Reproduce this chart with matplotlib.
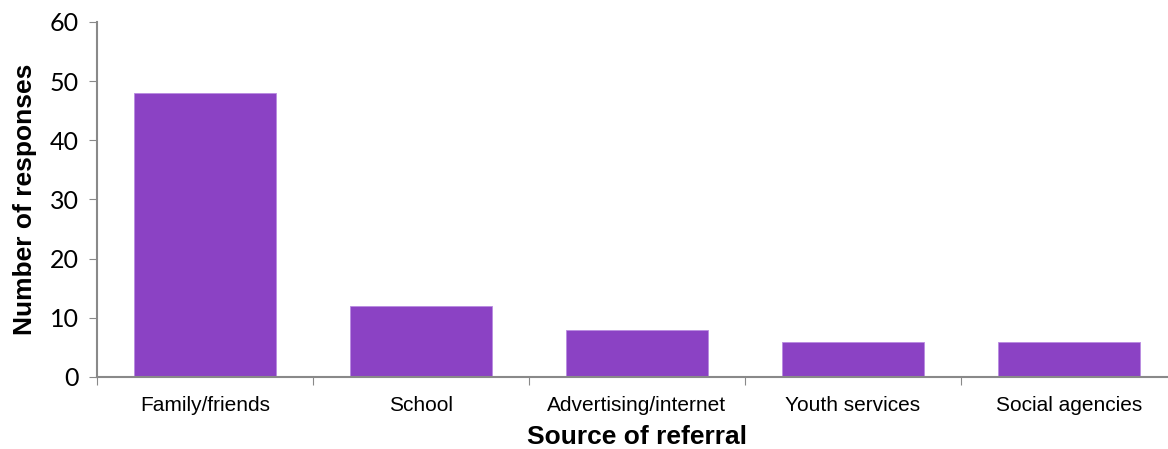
import matplotlib.pyplot as plt

categories = ["Family/friends", "School", "Advertising/internet",
              "Youth services", "Social agencies"]
responses = [48, 12, 8, 6, 6]

bar_color = "#8B42C4"
axis_color = "#898989"

fig = plt.figure(figsize=(11.68, 4.49), dpi=100)
ax = fig.add_axes([97 / 1168, 1 - 377 / 449, 1080 / 1168, 355 / 449])

x = list(range(len(categories)))
ax.bar(x, responses, width=0.66, color=bar_color, edgecolor="#B98BE0",
       linewidth=0.6)

ax.set_xlim(-0.5, len(categories) - 0.5)
ax.set_ylim(0, 60)
ax.set_yticks(range(0, 61, 10))
ax.tick_params(axis="y", direction="out", length=6, color=axis_color,
               labelsize=18, pad=7)
for lbl in ax.get_yticklabels():
    lbl.set_family("Lato")

# ticks between categories on the x axis
ax.set_xticks([i - 0.5 for i in range(len(categories) + 1)])
ax.set_xticklabels([])
ax.set_xticks(x, minor=True)
ax.set_xticklabels(categories, minor=True, fontsize=15,
                   family="Liberation Sans")
ax.tick_params(axis="x", which="major", direction="out", length=6,
               color=axis_color)
ax.tick_params(axis="x", which="minor", length=0, pad=14)

for side in ["top", "right"]:
    ax.spines[side].set_visible(False)
for side in ["left", "bottom"]:
    ax.spines[side].set_color(axis_color)
    ax.spines[side].set_linewidth(1.5)

ax.set_xlabel("Source of referral", fontsize=19, fontweight="bold",
              family="Liberation Sans", labelpad=7)
ax.set_ylabel("Number of responses", fontsize=19, fontweight="bold",
              family="Liberation Sans", labelpad=9)

fig.savefig("out.png", dpi=100)
